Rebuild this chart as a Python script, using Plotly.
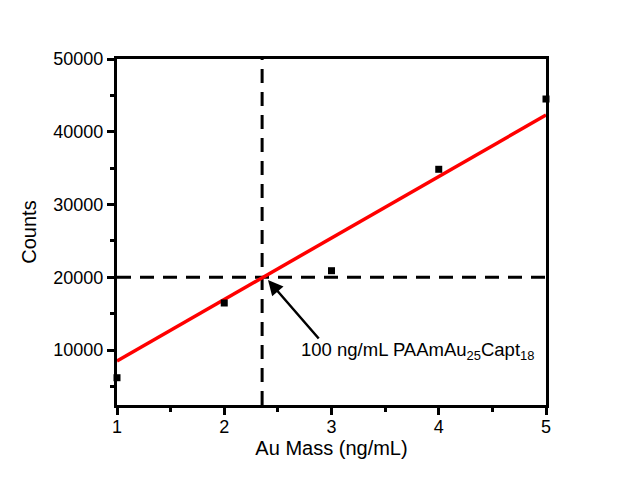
import plotly.graph_objects as go

# Data
au_mass = [1, 2, 3, 4, 5]
counts = [6190, 16460, 20900, 34840, 44500]
fit_x = [1, 5]
fit_y = [8490, 42300]
guide_x = 2.353
guide_y = 20000
x_range = [1, 5]
y_range = [2440, 50000]
label_text = "100 ng/mL PAAmAu<sub>25</sub>Capt<sub>18</sub>"

FONT = "Liberation Sans, Arial, sans-serif"

fig = go.Figure()
# dashed guide lines
fig.add_trace(go.Scatter(x=[guide_x, guide_x], y=y_range, mode="lines",
                         line=dict(color="black", width=3, dash="14px,9px"),
                         hoverinfo="skip", showlegend=False))
fig.add_trace(go.Scatter(x=x_range, y=[guide_y, guide_y], mode="lines",
                         line=dict(color="black", width=3, dash="14px,9px"),
                         hoverinfo="skip", showlegend=False))
# fit line
fig.add_trace(go.Scatter(x=fit_x, y=fit_y, mode="lines",
                         line=dict(color="#ff0000", width=3.5),
                         showlegend=False, cliponaxis=False))
# data points
fig.add_trace(go.Scatter(x=au_mass, y=counts, mode="markers",
                         marker=dict(symbol="square", size=7, color="black"),
                         showlegend=False, cliponaxis=False))

# arrow
fig.add_annotation(x=2.408, y=19620, ax=2.893, ay=11375, axref="x", ayref="y",
                   xref="x", yref="y", text="", showarrow=True,
                   arrowhead=2, arrowsize=1.2, arrowwidth=2.5, arrowcolor="black")
fig.add_annotation(x=3.8, y=9860, xref="x", yref="y", text=label_text,
                   showarrow=False, xanchor="center", yanchor="middle",
                   font=dict(family=FONT, size=18.5, color="black"))

axis_common = dict(showline=True, linecolor="black", linewidth=3, mirror=True,
                   showgrid=False, zeroline=False, ticks="outside", ticklen=7,
                   tickwidth=2.5, tickcolor="black", tickformat="d",
                   tickfont=dict(family=FONT, size=18, color="black"),
                   minor=dict(ticks="outside", ticklen=4, tickwidth=2.5, tickcolor="black"))

fig.update_xaxes(range=x_range, dtick=1, tick0=1, minor_dtick=0.5,
                 ticklabelstandoff=-4,
                 title=dict(text="Au Mass (ng/mL)", font=dict(family=FONT, size=20, color="black"),
                            standoff=6),
                 **axis_common)
fig.update_yaxes(range=y_range, dtick=10000, tick0=0, minor_dtick=5000,
                 title=dict(text="Counts", font=dict(family=FONT, size=20, color="black"),
                            standoff=12),
                 **axis_common)

fig.update_layout(width=624, height=479, margin=dict(l=117, r=78, t=59, b=74),
                  paper_bgcolor="white", plot_bgcolor="white")

fig.write_html("out.html")
